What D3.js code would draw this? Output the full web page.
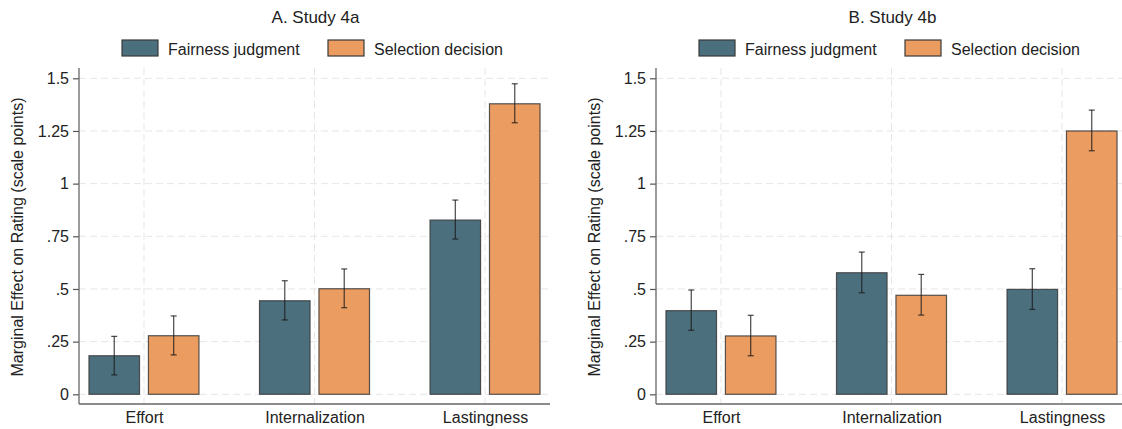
<!DOCTYPE html>
<html>
<head>
<meta charset="utf-8">
<script src="https://cdn.jsdelivr.net/npm/d3@7"></script>
<style>
  html, body { margin: 0; padding: 0; background: #fff; }
  svg { display: block; font-family: "Liberation Sans", Arial, sans-serif; }
</style>
</head>
<body>
<svg id="chart" width="1122" height="429"></svg>
<script>
// ---- Data ----
const categories = ["Effort", "Internalization", "Lastingness"];
const seriesNames = ["Fairness judgment", "Selection decision"];
const seriesColors = ["#4c6f7d", "#eb9c61"];
const tickValues = [0, 0.25, 0.5, 0.75, 1, 1.25, 1.5];
const tickLabels = ["0", ".25", ".5", ".75", "1", "1.25", "1.5"];

const panelTitles = ["A. Study 4a", "B. Study 4b"];

// Study 4a
const study4aFairness      = [0.183, 0.444, 0.827];
const study4aFairnessLo    = [0.092, 0.353, 0.737];
const study4aFairnessHi    = [0.275, 0.539, 0.922];
const study4aSelection     = [0.278, 0.501, 1.379];
const study4aSelectionLo   = [0.187, 0.411, 1.289];
const study4aSelectionHi   = [0.372, 0.595, 1.474];

// Study 4b
const study4bFairness      = [0.397, 0.577, 0.498];
const study4bFairnessLo    = [0.304, 0.482, 0.403];
const study4bFairnessHi    = [0.495, 0.675, 0.596];
const study4bSelection     = [0.277, 0.470, 1.250];
const study4bSelectionLo   = [0.183, 0.376, 1.156];
const study4bSelectionHi   = [0.375, 0.569, 1.349];

const panels = [
  { title: panelTitles[0],
    values: [study4aFairness, study4aSelection],
    lo: [study4aFairnessLo, study4aSelectionLo],
    hi: [study4aFairnessHi, study4aSelectionHi] },
  { title: panelTitles[1],
    values: [study4bFairness, study4bSelection],
    lo: [study4bFairnessLo, study4bSelectionLo],
    hi: [study4bFairnessHi, study4bSelectionHi] }
];

// ---- Layout ----
const svg = d3.select("#chart");
const panelOffsets = [0, 577];
const axisX = 79, plotRight = 550;
const yTop = 68, yBottom = 404;

const y = d3.scaleLinear().domain([0, 1.5]).range([394.3, 78.3]);

panels.forEach((p, pi) => {
  const off = panelOffsets[pi];
  const g = svg.append("g").attr("transform", `translate(${off},0)`);

  const x0 = d3.scalePoint().domain(categories).range([axisX, plotRight]).padding(0.381);
  const x1 = d3.scaleBand().domain(seriesNames).range([-55, 55]).paddingInner(0.15).paddingOuter(0);

  // Grid lines
  g.append("g").selectAll("line.hg").data(tickValues).join("line")
    .attr("x1", axisX).attr("x2", plotRight)
    .attr("y1", d => y(d)).attr("y2", d => y(d))
    .attr("stroke", "#e6e6e6").attr("stroke-width", 1).attr("stroke-dasharray", "7,4");
  g.append("g").selectAll("line.vg").data(categories).join("line")
    .attr("x1", d => x0(d)).attr("x2", d => x0(d))
    .attr("y1", yTop).attr("y2", yBottom)
    .attr("stroke", "#e6e6e6").attr("stroke-width", 1).attr("stroke-dasharray", "7,4");

  // Bars
  seriesNames.forEach((s, si) => {
    const rows = categories.map((c, ci) => ({ c, v: p.values[si][ci], lo: p.lo[si][ci], hi: p.hi[si][ci] }));
    g.append("g").selectAll("rect").data(rows).join("rect")
      .attr("x", d => x0(d.c) + x1(s))
      .attr("width", x1.bandwidth())
      .attr("y", d => y(d.v))
      .attr("height", d => y(0) - y(d.v))
      .attr("fill", seriesColors[si])
      .attr("stroke", "#3a3a3a").attr("stroke-opacity", 0.85).attr("stroke-width", 1.2);

    const eg = g.append("g").attr("stroke", "#1a1a1a").attr("stroke-opacity", 0.8).attr("stroke-width", 1.2);
    const cx = d => x0(d.c) + x1(s) + x1.bandwidth() / 2;
    eg.selectAll("line.v").data(rows).join("line")
      .attr("x1", cx).attr("x2", cx).attr("y1", d => y(d.lo)).attr("y2", d => y(d.hi));
    eg.selectAll("line.t").data(rows).join("line")
      .attr("x1", d => cx(d) - 3).attr("x2", d => cx(d) + 3).attr("y1", d => y(d.hi)).attr("y2", d => y(d.hi));
    eg.selectAll("line.b").data(rows).join("line")
      .attr("x1", d => cx(d) - 3).attr("x2", d => cx(d) + 3).attr("y1", d => y(d.lo)).attr("y2", d => y(d.lo));
  });

  // Y axis
  const yAxis = d3.axisLeft(y).tickValues(tickValues)
    .tickFormat((d, i) => tickLabels[i]).tickSize(6).tickPadding(4);
  const ya = g.append("g").attr("transform", `translate(${axisX},0)`).call(yAxis);
  ya.select(".domain").remove();
  ya.selectAll(".tick line").attr("stroke", "#555").attr("stroke-width", 1.2);
  ya.selectAll(".tick text").attr("font-size", 16).attr("fill", "#222")
    .attr("font-family", "Liberation Sans, Arial, sans-serif");
  g.append("line").attr("x1", axisX).attr("x2", axisX).attr("y1", yTop).attr("y2", yBottom)
    .attr("stroke", "#666").attr("stroke-width", 1.3);

  // X axis
  const xAxis = d3.axisBottom(x0).tickSize(0).tickPadding(8);
  const xa = g.append("g").attr("transform", `translate(0,${yBottom})`).call(xAxis);
  xa.select(".domain").remove();
  xa.selectAll(".tick text").attr("font-size", 16).attr("fill", "#222")
    .attr("font-family", "Liberation Sans, Arial, sans-serif");
  g.append("line").attr("x1", axisX).attr("x2", plotRight).attr("y1", yBottom).attr("y2", yBottom)
    .attr("stroke", "#666").attr("stroke-width", 1.3);

  // Y label
  g.append("text")
    .attr("transform", `translate(${23},${237}) rotate(-90)`)
    .attr("text-anchor", "middle").attr("font-size", 16).attr("fill", "#222")
    .text("Marginal Effect on Rating (scale points)");

  // Title
  g.append("text").attr("x", (axisX + plotRight + 0) / 2 + 1).attr("y", 23)
    .attr("text-anchor", "middle").attr("font-size", 17).attr("fill", "#222")
    .text(p.title);

  // Legend
  const legendX = [122, 328];
  seriesNames.forEach((s, si) => {
    g.append("rect").attr("x", legendX[si]).attr("y", 40).attr("width", 36).attr("height", 16)
      .attr("fill", seriesColors[si]).attr("stroke", "#3a3a3a").attr("stroke-width", 1.2);
    g.append("text").attr("x", legendX[si] + 46).attr("y", 54.5)
      .attr("font-size", 16).attr("fill", "#222").text(s);
  });
});
</script>
</body>
</html>
